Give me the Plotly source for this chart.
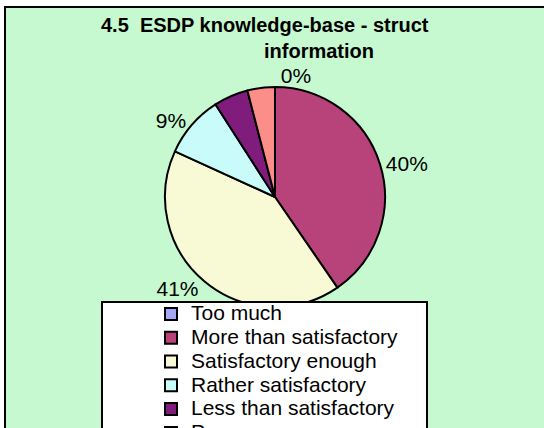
import plotly.graph_objects as go

W, H = 544, 428

categories = ["Too much", "More than satisfactory", "Satisfactory enough",
              "Rather satisfactory", "Less than satisfactory", "Poor"]
values = [0, 40, 41, 9, 5, 4]
shown_labels = ["0%", "40%", "41%", "9%", "", ""]
colors = ["#A6A6F6", "#B8437A", "#F8FAD6", "#C9FBFB", "#801C7C", "#FC8E8A"]

title_line1 = "4.5  ESDP knowledge-base - struct"
title_line2 = "information"

def px(x):
    return x / W

def py(y):
    return 1 - y / H

legend_labels = ['<span style="font-size:21px">%s</span>' % c for c in categories]

fig = go.Figure(go.Pie(
    labels=legend_labels,
    values=values,
    text=shown_labels,
    textinfo="text",
    textposition="outside",
    sort=False,
    direction="clockwise",
    rotation=0,
    marker=dict(colors=colors, line=dict(color="black", width=2)),
    textfont=dict(family="Arial, Liberation Sans", size=21, color="black"),
    domain=dict(x=[px(165), px(385)], y=[py(307), py(87)]),
    showlegend=True,
    hoverinfo="none",
))

fig.update_layout(
    width=W, height=H,
    margin=dict(l=0, r=0, t=0, b=0, autoexpand=False),
    paper_bgcolor="white",
    font=dict(family="Arial, Liberation Sans", color="black"),
    shapes=[
        dict(type="rect", xref="paper", yref="paper",
             x0=px(5), x1=px(560), y0=py(7), y1=py(450),
             fillcolor="#C6F9CF", line=dict(color="black", width=2), layer="below"),
        dict(type="rect", xref="paper", yref="paper",
             x0=px(102), x1=px(427), y0=py(302), y1=py(460),
             fillcolor="white", line=dict(color="black", width=2), layer="above"),
    ],
    annotations=[
        dict(text="<b>%s</b>" % title_line1, xref="paper", yref="paper",
             x=px(265), y=py(25), showarrow=False, xanchor="center", yanchor="middle",
             font=dict(size=20, family="Arial, Liberation Sans")),
        dict(text="<b>%s</b>" % title_line2, xref="paper", yref="paper",
             x=px(319), y=py(51), showarrow=False, xanchor="center", yanchor="middle",
             font=dict(size=20, family="Arial, Liberation Sans")),
    ],
    legend=dict(
        x=px(151), y=py(297), xanchor="left", yanchor="top",
        bgcolor="rgba(0,0,0,0)", borderwidth=0,
        font=dict(size=16, family="Arial, Liberation Sans"),
        traceorder="normal",
    ),
)

fig.write_html("out.html",
               config={"displayModeBar": False},
               post_script="document.body.style.margin='0';document.body.style.overflow='hidden';")
